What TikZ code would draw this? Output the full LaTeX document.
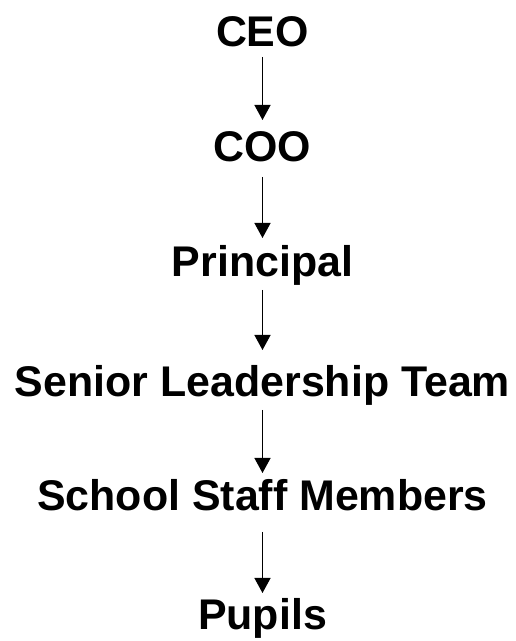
\documentclass[tikz,border=0pt]{standalone}
\usepackage{fontspec}
\setmainfont{Liberation Sans}
\usetikzlibrary{arrows.meta}
\begin{document}
\begin{tikzpicture}[x=1pt,y=1pt,
  lbl/.style={anchor=base, inner sep=0pt, outer sep=0pt, text height=31pt, text depth=9pt,
    font=\fontsize{42.9pt}{48pt}\selectfont\bfseries},
  arr/.style={line width=1.4pt, -{Triangle[length=15pt,width=16pt]}}]
\useasboundingbox (0,0) rectangle (515,641);
\node[lbl] (ceo) at (262.5,641-47) {CEO};
\node[lbl] (coo) at (262.5,641-162) {COO};
\node[lbl] (prin) at (262.5,641-277) {Principal};
\node[lbl] (slt) at (262.5,641-397) {Senior Leadership Team};
\node[lbl] (ssm) at (262.5,641-511) {School Staff Members};
\node[lbl] (pup) at (262.5,641-630) {Pupils};
\draw[arr] ([yshift=-1pt]ceo.south) -- ([yshift=11pt]coo.north);
\draw[arr] ([yshift=-6pt]coo.south) -- ([yshift=8pt]prin.north);
\draw[arr] ([yshift=-4pt]prin.south) -- ([yshift=16pt]slt.north);
\draw[arr] ([yshift=-4pt]slt.south) -- ([yshift=7pt]ssm.north);
\draw[arr] ([yshift=-12pt]ssm.south) -- ([yshift=6pt]pup.north);
\end{tikzpicture}
\end{document}
